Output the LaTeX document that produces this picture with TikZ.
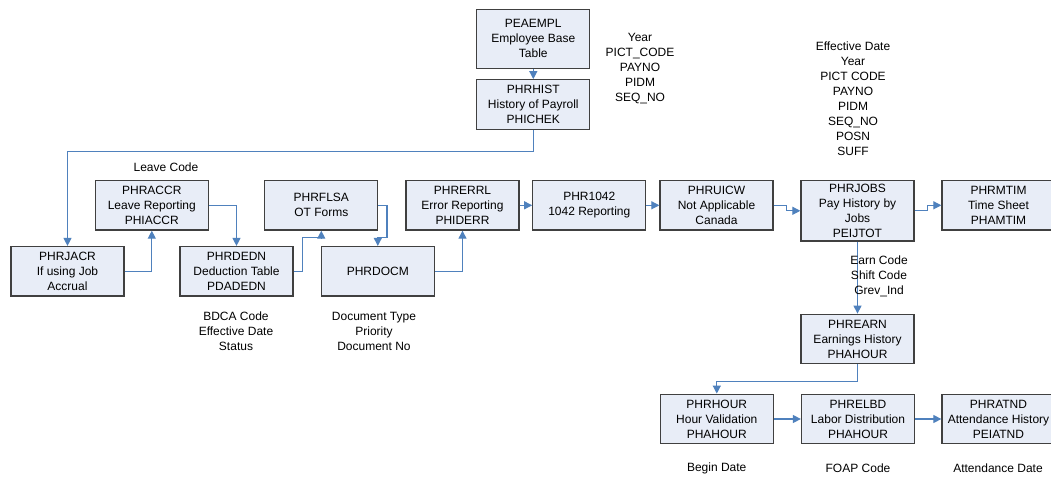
\documentclass[tikz,border=0pt]{standalone}
\usepackage{fontspec}
\setmainfont{Liberation Sans}
\usetikzlibrary{arrows.meta}
\definecolor{tablefill}{RGB}{232,237,247}
\definecolor{tableedge}{RGB}{64,64,64}
\definecolor{linkblue}{RGB}{79,129,189}
\begin{document}
\begin{tikzpicture}[x=1pt, y=-1pt,
  font=\fontsize{12}{15}\selectfont,
  tablebox/.style={draw=tableedge, fill=tablefill, line width=1.3pt, align=center, inner sep=0pt, minimum width=113pt, minimum height=49.5pt},
  keylist/.style={align=center, inner sep=0pt},
  link/.style={draw=linkblue, line width=1.2pt, -{Triangle[length=8pt, width=8pt]}}]
\clip (0,0) rectangle (1051,477);
\fill[white] (0,0) rectangle (1051,477);
\node[tablebox, minimum height=59pt] (peaempl) at (533.3,38.8) {PEAEMPL\\Employee Base\\Table};
\node[tablebox] (phrhist) at (533.3,104.5) {PHRHIST\\History of Payroll\\PHICHEK};
\node[tablebox] (phrjacr) at (67.5,271.3) {PHRJACR\\If using Job\\Accrual};
\node[tablebox] (phraccr) at (151.8,205.3) {PHRACCR\\Leave Reporting\\PHIACCR};
\node[tablebox] (phrdedn) at (236.5,271.3) {PHRDEDN\\Deduction Table\\PDADEDN};
\node[tablebox] (phrflsa) at (321.3,205.3) {PHRFLSA\\OT Forms};
\node[tablebox] (phrdocm) at (377.8,271.3) {PHRDOCM};
\node[tablebox] (phrerrl) at (462.5,205.3) {PHRERRL\\Error Reporting\\PHIDERR};
\node[tablebox] (phr1042) at (589.3,205.3) {PHR1042\\1042 Reporting};
\node[tablebox] (phruicw) at (716.5,205.3) {PHRUICW\\Not Applicable\\Canada};
\node[tablebox, minimum height=60.3pt] (phrjobs) at (857.5,210.8) {PHRJOBS\\Pay History by\\Jobs\\PEIJTOT};
\node[tablebox] (phrmtim) at (998.5,205.3) {PHRMTIM\\Time Sheet\\PHAMTIM};
\node[tablebox] (phrearn) at (857.5,339) {PHREARN\\Earnings History\\PHAHOUR};
\node[tablebox] (phrhour) at (716.8,419) {PHRHOUR\\Hour Validation\\PHAHOUR};
\node[tablebox] (phrelbd) at (858,419) {PHRELBD\\Labor Distribution\\PHAHOUR};
\node[tablebox] (phratnd) at (998.5,419) {PHRATND\\Attendance History\\PEIATND};
\node[keylist] (histkeys) at (640,69) {Year\\PICT\_CODE\\PAYNO\\PIDM\\SEQ\_NO};
\node[keylist] (jobskeys) at (853,98.5) {Effective Date\\Year\\PICT CODE\\PAYNO\\PIDM\\SEQ\_NO\\POSN\\SUFF};
\node[keylist] (accrkeys) at (166,167) {Leave Code};
\node[keylist] (dednkeys) at (236,331) {BDCA Code\\Effective Date\\Status};
\node[keylist] (docmkeys) at (374,331) {Document Type\\Priority\\Document No};
\node[keylist] (hourkeys) at (716.7,468) {Begin Date};
\node[keylist] (elbdkeys) at (858,468) {FOAP Code};
\node[keylist] (atndkeys) at (998,468) {Attendance Date};
\draw[link] (peaempl) -- (phrhist);
\draw[link] (phrhist.south) -- ++(0,21.7) -| (phrjacr.north);
\draw[link] (phrjacr.east) -| (phraccr.south);
\draw[link] (phraccr.east) -| (phrdedn.north);
\draw[link] (phrdedn.east) -- ++(9,0) -- ++(0,-33.5) -| (phrflsa.south);
\draw[link] (phrflsa.east) -- ++(8.5,0) -- ++(0,32) -| (phrdocm.north);
\draw[link] (phrdocm.east) -| (phrerrl.south);
\draw[link] (phrerrl) -- (phr1042);
\draw[link] (phr1042) -- (phruicw);
\draw[link] (phruicw.east) -- ++(13,0) |- (phrjobs.west);
\draw[link] (phrjobs.east) -- ++(13,0) |- (phrmtim.west);
\draw[link] (phrjobs) -- (phrearn);
\node[keylist] (earnkeys) at (879,276.7) {Earn Code\\Shift Code\\Grev\_Ind};
\draw[link] (phrearn.south) -- ++(0,17) -| (phrhour.north);
\draw[link] (phrhour) -- (phrelbd);
\draw[link] (phrelbd) -- (phratnd);
\end{tikzpicture}
\end{document}
